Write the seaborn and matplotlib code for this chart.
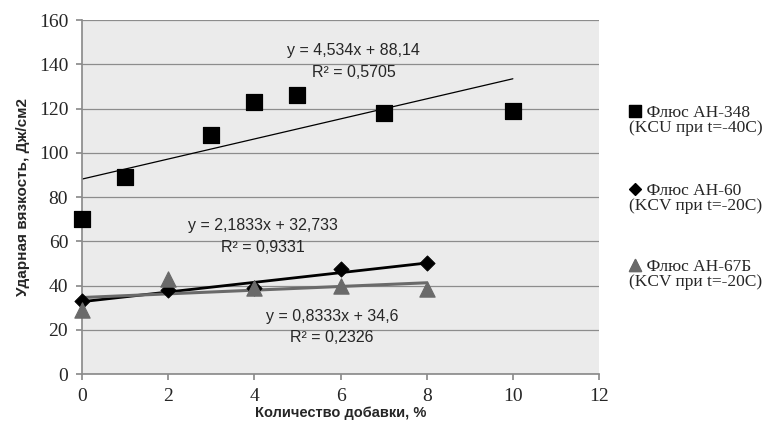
import matplotlib
matplotlib.use("Agg")
import matplotlib.pyplot as plt
import seaborn as sns
import numpy as np
import pandas as pd

# данные
x_348 = [0, 1, 3, 4, 5, 7, 10]
y_348 = [70, 89, 108, 123, 126, 118, 119]
x_60 = [0, 2, 4, 6, 8]
y_60 = [33, 38, 39, 47.5, 50]
x_67 = [0, 2, 4, 6, 8]
y_67 = [29, 43, 39, 40, 38.5]

# коэффициенты линий тренда (из подписей)
trend_k = [4.534, 2.1833, 0.8333]
trend_b = [88.14, 32.733, 34.6]
trend_r2 = ["0,5705", "0,9331", "0,2326"]
trend_txt = ["y = 4,534x + 88,14", "y = 2,1833x + 32,733", "y = 0,8333x + 34,6"]

names = ["Флюс АН-348", "Флюс АН-60", "Флюс АН-67Б"]
conds = ["(KCU при t=-40C)", "(KCV при t=-20C)", "(KCV при t=-20C)"]

sns.set_theme(style="white")
plt.rcParams['font.family'] = ['Liberation Sans', 'DejaVu Sans']

df = pd.concat([
    pd.DataFrame({"x": x_348, "y": y_348, "s": names[0]}),
    pd.DataFrame({"x": x_60, "y": y_60, "s": names[1]}),
    pd.DataFrame({"x": x_67, "y": y_67, "s": names[2]}),
])

W, H = 782, 437
fig = plt.figure(figsize=(W / 100, H / 100), dpi=100)
ax = fig.add_axes([0.105, 0.144, 0.661, 0.81])
ax.set_facecolor("#ebebeb")

colors = ["black", "black", "#6a6a6a"]
markers = ["s", "D", "^"]
sizes = [120, 60, 120]
xs = [x_348, x_60, x_67]

# линии тренда
lws = [0.9, 2.0, 2.2]
for i in range(3):
    xx = np.array([min(xs[i]), max(xs[i])])
    sns.lineplot(x=xx, y=trend_k[i] * xx + trend_b[i], color=colors[i],
                 lw=lws[i], ax=ax, legend=False, zorder=2)

handles = []
for i in range(3):
    sub = df[df["s"] == names[i]]
    sns.scatterplot(data=sub, x="x", y="y", marker=markers[i], s=sizes[i],
                    color=colors[i], edgecolor=colors[i], ax=ax, zorder=3,
                    clip_on=False, legend=False)
    handles.append(ax.collections[-1])

ax.set_xlim(0, 12)
ax.set_ylim(0, 160)
ax.set_xticks(range(0, 13, 2))
ax.set_yticks(range(0, 161, 20))
ax.yaxis.grid(True, color="#8c8c8c", lw=0.9)
ax.set_axisbelow(True)
for sp in ["top", "right"]:
    ax.spines[sp].set_visible(False)
for sp in ["left", "bottom"]:
    ax.spines[sp].set_color("#8c8c8c")
ax.tick_params(axis="both", which="both", direction="out", length=4, color="#8c8c8c",
               bottom=True, left=True, labelsize=14, pad=6)
for t in ax.get_xticklabels() + ax.get_yticklabels():
    t.set_fontfamily("Liberation Serif")

ax.set_xlabel("Количество добавки, %", fontsize=10.5, fontweight="bold", labelpad=1)
ax.set_ylabel("Ударная вязкость, Дж/см2", fontsize=11, fontweight="bold", labelpad=6)

# подписи уравнений
pos = [(6.31, 146.4, 136.5), (4.2, 67.0, 57.4), (5.8, 26.2, 16.7)]
for i in range(3):
    px, py1, py2 = pos[i]
    ax.text(px, py1, trend_txt[i], ha="center", va="center", fontsize=11.5)
    ax.text(px, py2, "R² = " + trend_r2[i], ha="center", va="center", fontsize=11.5)

# легенда: маркер + двухстрочная подпись для каждой серии
leg_py = [111, 189, 265]
for i in range(3):
    yf = 1 - leg_py[i] / H
    leg = fig.legend([handles[i]], [""], loc="center left",
                     bbox_to_anchor=(628 / W, yf), bbox_transform=fig.transFigure,
                     frameon=False, prop={"size": 12}, borderpad=0, borderaxespad=0,
                     handletextpad=0, handlelength=0.8, markerscale=0.8)
    fig.add_artist(leg)
    fig.text(629 / W, yf + 6 / H, "    " + names[i] + "\n" + conds[i], ha="left", va="top",
             fontsize=12.5, fontfamily="Liberation Serif", linespacing=0.92)

fig.savefig("out.png", dpi=100)
